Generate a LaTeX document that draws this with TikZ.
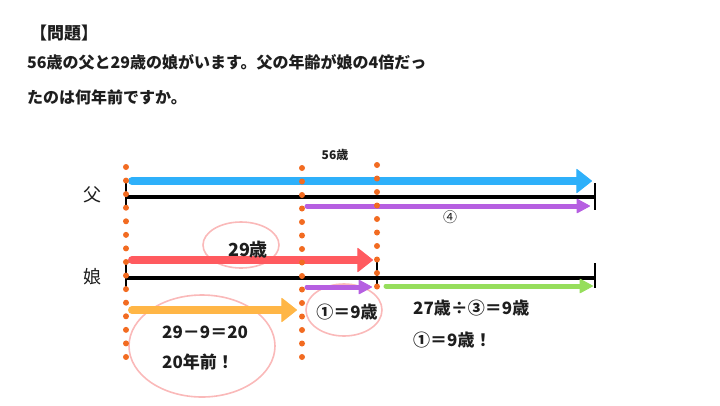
\documentclass[tikz,border=0pt]{standalone}
\usepackage{fontspec}
\setmainfont{Noto Sans CJK JP}
\usetikzlibrary{arrows.meta}
\definecolor{dotorange}{RGB}{242,107,33}
\definecolor{barblue}{RGB}{46,176,250}
\definecolor{barpurple}{RGB}{182,95,225}
\definecolor{barred}{RGB}{255,90,95}
\definecolor{barorange}{RGB}{255,182,70}
\definecolor{bargreen}{RGB}{150,222,92}
\definecolor{ringpink}{RGB}{250,185,185}
\definecolor{inkgray}{RGB}{30,30,30}
\begin{document}
\begin{tikzpicture}[x=1pt,y=-1pt,
        fatbar/.style={line width=8pt,line cap=round,-{Triangle[round,length=16pt,width=25pt,line width=1pt]}},
        slimbar/.style={line width=5pt,line cap=round,-{Triangle[round,length=14pt,width=15pt,line width=1pt]}},
        base/.style={black,line width=4pt},
        tick/.style={black,line width=1.6pt},
        ring/.style={ringpink,line width=1.6pt},
        txt/.style={inner sep=0pt,text=inkgray,font=\fontsize{17}{20}\selectfont\bfseries}]
    \useasboundingbox (0,0) rectangle (720,405);

    \node[txt,anchor=west] (title) at (30,33) {【問題】};
    \node[txt,anchor=west,font=\fontsize{16}{20}\selectfont\bfseries] (q1) at (27,62) {56歳の父と29歳の娘がいます。父の年齢が娘の4倍だっ};
    \node[txt,anchor=west,font=\fontsize{16}{20}\selectfont\bfseries] (q2) at (27,97) {たのは何年前ですか。};

    \draw[ring] (241,245) ellipse (38 and 23);
    \draw[ring] (344,310) ellipse (38 and 26);
    \draw[ring] (202,346) ellipse (73 and 51);

    \coordinate (f0) at (126,197);
    \coordinate (f1) at (595,197);
    \coordinate (d0) at (126,278);
    \coordinate (d1) at (595,278);
    \coordinate (dm) at (377,278);

    \draw[base] (f0) -- (f1);
    \draw[tick] (126,181) -- (126,208);
    \draw[tick] (595,183) -- (595,210);
    \draw[base] (d0) -- (d1);
    \draw[tick] (126,262) -- (126,291);
    \draw[tick] (377,260) -- (377,287);
    \draw[tick] (595,263) -- (595,288);

    \draw[fatbar,barblue] (132,181) -- (592,181);
    \draw[slimbar,barpurple] (307,206) -- (590,206);
    \draw[fatbar,barred] (132,260) -- (373,260);
    \draw[slimbar,barpurple] (307,287) -- (372,287);
    \draw[slimbar,bargreen] (386,286) -- (593,286);
    \draw[fatbar,barorange] (132,310) -- (297,310);

    \foreach \i in {0,...,14} \fill[dotorange] (126,167+13.57*\i) circle (3);
    \foreach \i in {0,...,14} \fill[dotorange] (302,168+13.5*\i) circle (3);
    \foreach \i in {0,...,9} \fill[dotorange] (377,165+13.5*\i) circle (3);

    \node[txt,font=\fontsize{18}{20}\selectfont] (chichi) at (92,195) {父};
    \node[txt,font=\fontsize{18}{20}\selectfont] (musume) at (92,277) {娘};
    \node[txt,font=\fontsize{12}{14}\selectfont\bfseries] (age56) at (335,155) {56歳};
    \node[txt,font=\fontsize{14}{16}\selectfont] (four) at (450,217) {④};
    \node[txt,font=\fontsize{18}{20}\selectfont\bfseries] (age29) at (248,250) {29歳};
    \node[txt] (one) at (347,312) {①＝9歳};
    \node[txt,anchor=west] (calc1) at (413,308) {27歳÷③＝9歳};
    \node[txt,anchor=west] (calc2) at (413,340) {①＝9歳！};
    \node[txt,anchor=west] (ans1) at (162,332) {29－9＝20};
    \node[txt,anchor=west] (ans2) at (162,362) {20年前！};
\end{tikzpicture}
\end{document}
